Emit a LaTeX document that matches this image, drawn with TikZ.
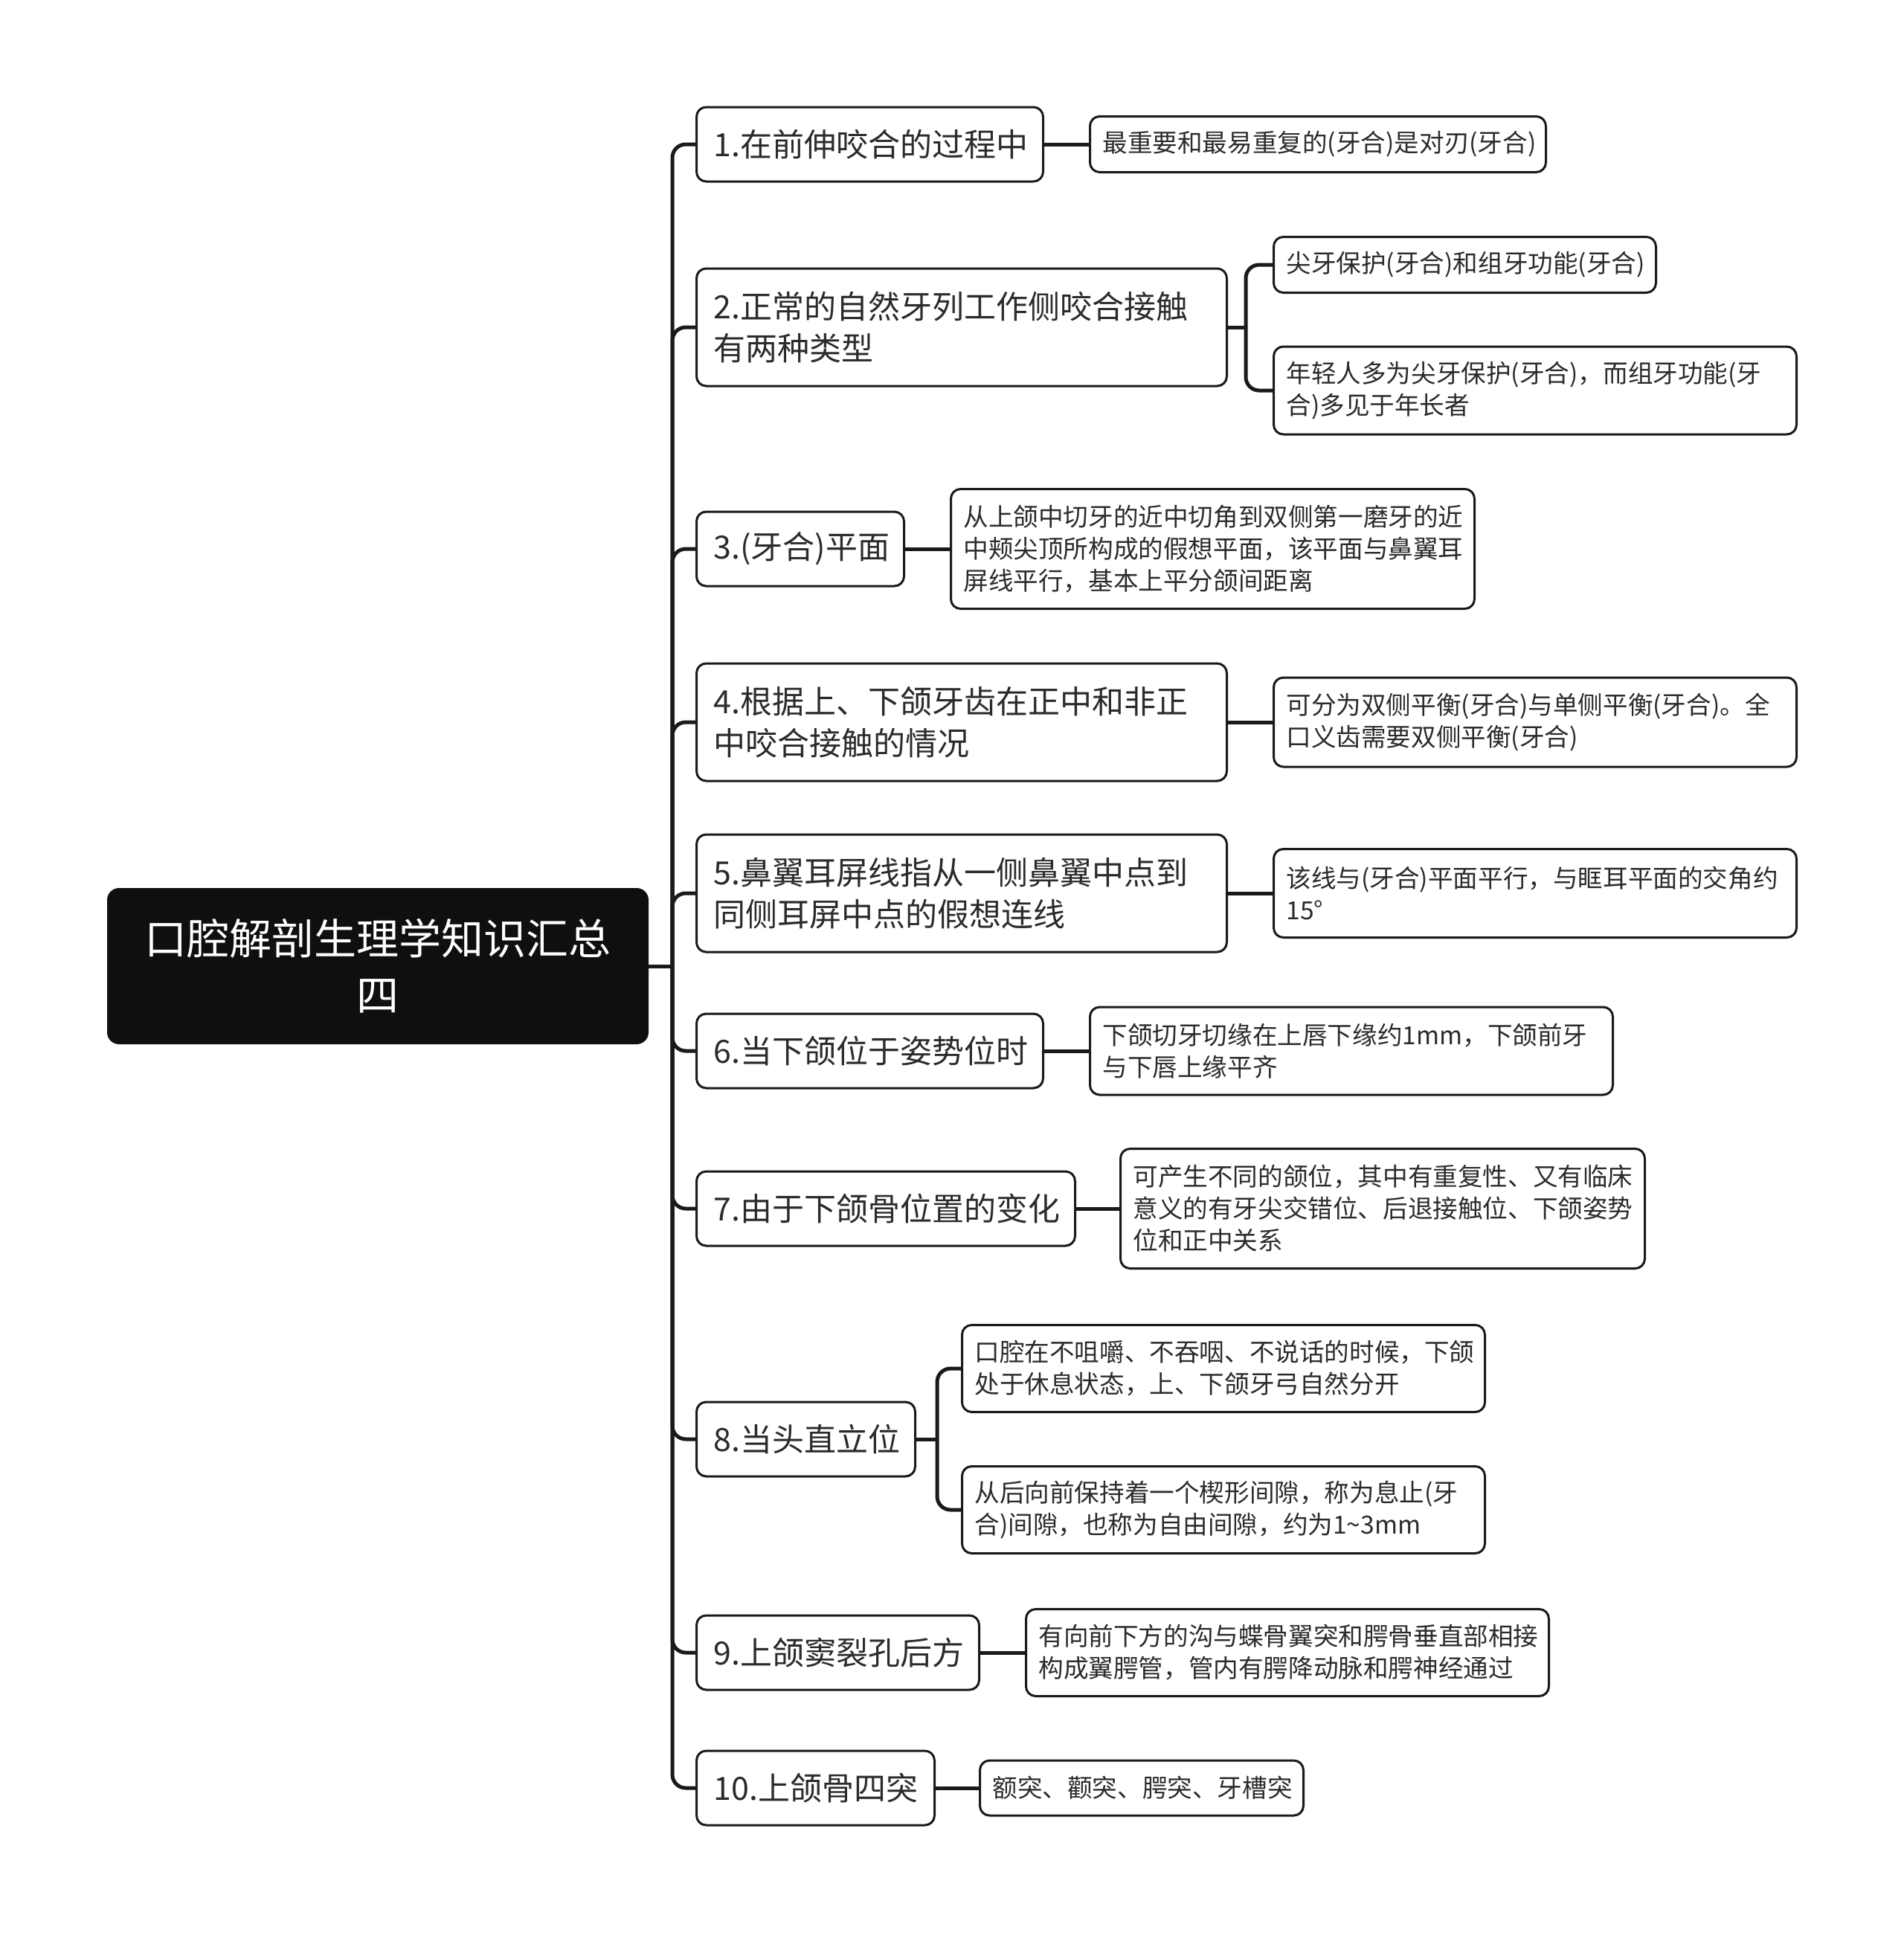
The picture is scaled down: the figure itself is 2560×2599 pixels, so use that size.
\documentclass[tikz,border=0pt]{standalone}
\usepackage{fontspec}
\setmainfont{Noto Sans CJK SC}
\usetikzlibrary{calc}
\definecolor{ink}{HTML}{1A1A1A}
\definecolor{txt}{HTML}{2B2B2B}
\definecolor{rootfill}{HTML}{0F0F0F}
\begin{document}
\begin{tikzpicture}[x=0.5pt,y=-0.5pt,
 box/.style={draw=ink, line width=1.5pt, rounded corners=6.5pt, fill=white, text=txt, align=left, anchor=west, inner ysep=0pt},
 lone/.style={box, font=\fontsize{21.5}{28}\selectfont, inner xsep=11.5pt},
 ltwo/.style={box, font=\fontsize{16.8}{21.5}\selectfont, inner xsep=8.5pt},
 conn/.style={draw=ink, line width=2.5pt, rounded corners=9pt},
]
\useasboundingbox (0,0) rectangle (2560,2599);
% root
\node[fill=rootfill, rounded corners=8pt, text=white, font=\fontsize{28.5}{38}\selectfont, align=center, minimum width=364pt, minimum height=105pt, inner sep=0pt] (root) at (508,1299) {口腔解剖生理学知识汇总\\四};
% level 1
\node[lone, text width=210pt,   minimum height=50pt] (n1)  at (935,194)  {1.在前伸咬合的过程中};
\node[lone, text width=333.5pt, minimum height=79pt] (n2)  at (935,440)  {2.正常的自然牙列工作侧咬合接触\\有两种类型};
\node[lone, text width=116.5pt, minimum height=50pt] (n3)  at (935,738)  {3.(牙合)平面};
\node[lone, text width=333.5pt, minimum height=79pt] (n4)  at (935,971)  {4.根据上、下颌牙齿在正中和非正\\中咬合接触的情况};
\node[lone, text width=333.5pt, minimum height=79pt] (n5)  at (935,1201) {5.鼻翼耳屏线指从一侧鼻翼中点到\\同侧耳屏中点的假想连线};
\node[lone, text width=210pt,   minimum height=50pt] (n6)  at (935,1413) {6.当下颌位于姿势位时};
\node[lone, text width=231.5pt, minimum height=50pt] (n7)  at (935,1625) {7.由于下颌骨位置的变化};
\node[lone, text width=124pt,   minimum height=50pt] (n8)  at (935,1935) {8.当头直立位};
\node[lone, text width=167pt,   minimum height=50pt] (n9)  at (935,2222) {9.上颌窦裂孔后方};
\node[lone, text width=137pt,   minimum height=50pt] (n10) at (935,2404) {10.上颌骨四突};
% level 2
\node[ltwo, text width=289.5pt, minimum height=37.5pt] (n1a) at (1464,194) {最重要和最易重复的(牙合)是对刃(牙合)};
\node[ltwo, text width=240pt,   minimum height=37.5pt] (n2a) at (1711,356) {尖牙保护(牙合)和组牙功能(牙合)};
\node[ltwo, text width=334.5pt, minimum height=59pt]   (n2b) at (1711,525) {年轻人多为尖牙保护(牙合)，而组牙功能(牙\\合)多见于年长者};
\node[ltwo, text width=335pt,   minimum height=80.5pt] (n3a) at (1277,738) {从上颌中切牙的近中切角到双侧第一磨牙的近\\中颊尖顶所构成的假想平面，该平面与鼻翼耳\\屏线平行，基本上平分颌间距离};
\node[ltwo, text width=334.5pt, minimum height=60pt]   (n4a) at (1711,971) {可分为双侧平衡(牙合)与单侧平衡(牙合)。全\\口义齿需要双侧平衡(牙合)};
\node[ltwo, text width=334.5pt, minimum height=59.5pt] (n5a) at (1711,1201) {该线与(牙合)平面平行，与眶耳平面的交角约\\15°};
\node[ltwo, text width=334.5pt, minimum height=59pt]   (n6a) at (1464,1413) {下颌切牙切缘在上唇下缘约1mm，下颌前牙\\与下唇上缘平齐};
\node[ltwo, text width=335.5pt, minimum height=80.5pt] (n7a) at (1505,1625) {可产生不同的颌位，其中有重复性、又有临床\\意义的有牙尖交错位、后退接触位、下颌姿势\\位和正中关系};
\node[ltwo, text width=334.5pt, minimum height=58.5pt] (n8a) at (1292,1840) {口腔在不咀嚼、不吞咽、不说话的时候，下颌\\处于休息状态，上、下颌牙弓自然分开};
\node[ltwo, text width=334.5pt, minimum height=58.5pt] (n8b) at (1292,2030) {从后向前保持着一个楔形间隙，称为息止(牙\\合)间隙，也称为自由间隙，约为1\textasciitilde 3mm};
\node[ltwo, text width=334.5pt, minimum height=58.5pt] (n9a) at (1378,2222) {有向前下方的沟与蝶骨翼突和腭骨垂直部相接\\构成翼腭管，管内有腭降动脉和腭神经通过};
\node[ltwo, text width=200.5pt, minimum height=37pt]   (n10a) at (1316,2404) {额突、颧突、腭突、牙槽突};
% connectors
\coordinate (tj) at (904,1299);
\coordinate (j2) at (1675,440);
\coordinate (j8) at (1260,1935);
\draw[conn] (root.east) -- (tj);
\foreach \n in {n1,n2,n3,n4,n5,n6,n7,n8,n9,n10} \draw[conn] (tj) |- (\n.west);
\draw[conn] (n1.east) -- (n1a.west);
\draw[conn] (n2.east) -- (j2);
\draw[conn] (j2) |- (n2a.west);
\draw[conn] (j2) |- (n2b.west);
\draw[conn] (n3.east) -- (n3a.west);
\draw[conn] (n4.east) -- (n4a.west);
\draw[conn] (n5.east) -- (n5a.west);
\draw[conn] (n6.east) -- (n6a.west);
\draw[conn] (n7.east) -- (n7a.west);
\draw[conn] (n8.east) -- (j8);
\draw[conn] (j8) |- (n8a.west);
\draw[conn] (j8) |- (n8b.west);
\draw[conn] (n9.east) -- (n9a.west);
\draw[conn] (n10.east) -- (n10a.west);
\end{tikzpicture}
\end{document}
